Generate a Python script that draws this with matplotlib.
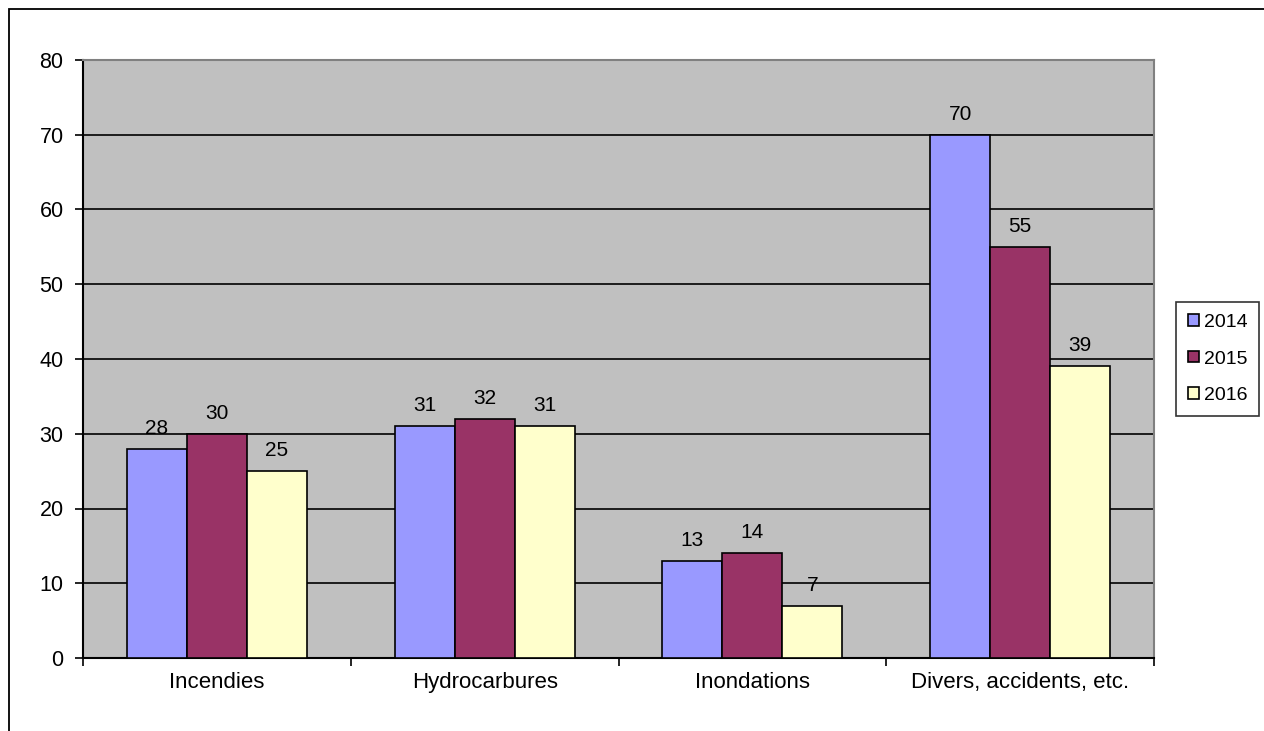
import matplotlib.pyplot as plt
import numpy as np
from matplotlib.patches import Rectangle

plt.rcParams['font.family'] = ['Liberation Sans', 'DejaVu Sans']

categories = ["Incendies", "Hydrocarbures", "Inondations", "Divers, accidents, etc."]
years = ["2014", "2015", "2016"]
values_2014 = [28, 31, 13, 70]
values_2015 = [30, 32, 14, 55]
values_2016 = [25, 31, 7, 39]
colors = ["#9999FF", "#993366", "#FFFFCC"]

fig = plt.figure(figsize=(12.64, 7.31), dpi=100)
ax = fig.add_axes([83 / 1264, 1 - 658 / 731, (1154 - 83) / 1264, (658 - 60) / 731])

# outer frame of the chart (runs past the right and bottom edges)
fig.patches.append(Rectangle((9 / 1264, -0.1), 1.2, 1.1 - 9 / 731,
                             transform=fig.transFigure, fill=False,
                             edgecolor="black", linewidth=1.3))

x = np.arange(len(categories))
width = 0.224
series = [values_2014, values_2015, values_2016]
for i, (vals, year, col) in enumerate(zip(series, years, colors)):
    pos = x + (i - 1) * width
    bars = ax.bar(pos, vals, width, color=col, edgecolor="black",
                  linewidth=1.2, label=year, zorder=3)
    for b, v in zip(bars, vals):
        ax.annotate(str(v), (b.get_x() + b.get_width() / 2, v),
                    xytext=(0, 8), textcoords="offset points",
                    ha="center", va="bottom", fontsize=15, zorder=4)

ax.set_facecolor("#C0C0C0")
ax.set_xlim(-0.5, 3.5)
ax.set_ylim(0, 80)
ax.set_yticks(range(0, 81, 10))
ax.yaxis.grid(True, color="black", linewidth=1.2, zorder=1)
ax.set_axisbelow(True)

ax.set_xticks(x)
ax.set_xticklabels(categories)
ax.set_xticks(np.arange(-0.5, 4, 1), minor=True)
ax.tick_params(axis="x", which="major", length=0, pad=10, labelsize=16)
ax.tick_params(axis="x", which="minor", length=6, width=1.2, direction="out")
ax.tick_params(axis="y", length=6, width=1.2, direction="out", labelsize=15.5, pad=8)

ax.spines["left"].set_linewidth(1.5)
ax.spines["bottom"].set_linewidth(1.5)
ax.spines["top"].set_color("#808080")
ax.spines["right"].set_color("#808080")
ax.spines["top"].set_linewidth(1.5)
ax.spines["right"].set_linewidth(1.5)

leg = ax.legend(loc="center left", bbox_to_anchor=(1.021, 0.5), frameon=True,
                fancybox=False, edgecolor="black", fontsize=14,
                handlelength=0.55, handleheight=0.55, handletextpad=0.25,
                labelspacing=1.0, borderpad=0.6, borderaxespad=0)
leg.get_frame().set_linewidth(1.2)

fig.savefig("out.png", dpi=100)
